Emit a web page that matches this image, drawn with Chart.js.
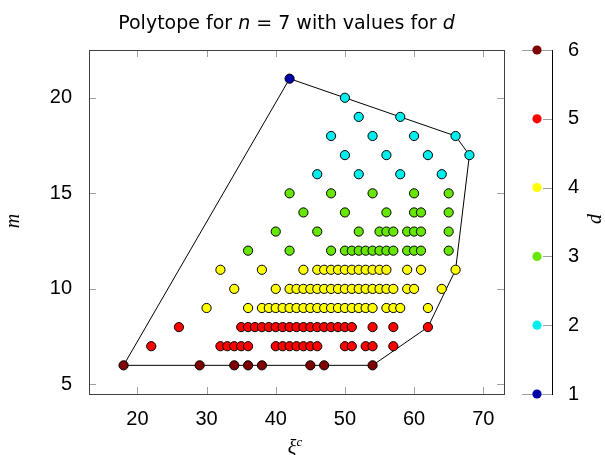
<!DOCTYPE html>
<html>
<head>
<meta charset="utf-8">
<script src="https://cdn.jsdelivr.net/npm/chart.js@4.4.0/dist/chart.umd.min.js"></script>
<style>
  body { margin: 0; background: #fff; }
  #wrap { position: relative; width: 605px; height: 455px; overflow: hidden; }
  canvas { position: absolute; top: 0; }
  .lbl { position: absolute; color: #000; white-space: nowrap; text-align: center; }
  .math { font-family: "Liberation Serif", serif; font-style: italic; }
</style>
</head>
<body>
<div id="wrap">
  <canvas id="main" width="605" height="455" style="left:0"></canvas>
  <canvas id="cbar" width="100" height="455" style="left:505px"></canvas>
  <div class="lbl" id="title" style="left:0;width:573px;top:11px;line-height:24px;font:19px 'DejaVu Sans';">Polytope for <i>n</i> = 7 with values for <i>d</i></div>
  <div class="lbl math" style="left:-8px;top:206px;width:40px;line-height:30px;font-size:20px;transform:rotate(-90deg);">m</div>
  <div class="lbl math" style="left:245px;top:430px;width:100px;line-height:24px;font-size:20px;">ξ<sup style="font-size:13px">c</sup></div>
  <div class="lbl math" style="left:574px;top:204px;width:40px;line-height:30px;font-size:20px;transform:rotate(-90deg);">d</div>
</div>
<script>
// rows of the polytope: m value, colour value d, and the xi^c values in that row
const mRows = [6, 7, 8, 9, 10, 11, 12, 13, 14, 15, 16, 17, 18, 19, 20, 21];
const dRows = [6, 5, 5, 4, 4, 4, 3, 3, 3, 3, 2, 2, 2, 2, 2, 1];
const xiRows = [
  [18, 29, 34, 36, 38, 45, 47, 54],
  [22, 32, 33, 34, 35, 36, 40, 41, 42, 43, 44, 45, 46, 50, 51, 53, 54, 57],
  [26, 35, 36, 37, 38, 39, 40, 41, 42, 43, 44, 45, 46, 47, 48, 49, 50, 51, 54, 57, 62],
  [30, 36, 38, 39, 40, 41, 42, 43, 44, 45, 46, 47, 48, 49, 50, 51, 52, 53, 54, 56, 57, 58, 62],
  [34, 40, 42, 43, 44, 45, 46, 47, 48, 49, 50, 51, 52, 53, 54, 55, 56, 57, 59, 60, 64],
  [32, 38, 44, 46, 47, 48, 49, 50, 51, 52, 53, 54, 55, 56, 59, 61, 66],
  [36, 42, 48, 50, 51, 52, 53, 54, 55, 56, 57, 59, 60, 61, 65],
  [40, 46, 52, 55, 56, 57, 59, 60, 61, 65],
  [44, 50, 56, 60, 61, 65],
  [42, 48, 54, 60, 65],
  [46, 52, 58, 64],
  [50, 56, 62, 68],
  [48, 54, 60, 66],
  [52, 58],
  [50],
  [42]
];

// outline of the polytope
const hullXi = [42, 50, 58, 66, 68, 66, 62, 54, 18, 42];
const hullM = [21, 20, 19, 18, 17, 11, 8, 6, 6, 21];

// colour bar
const dLevels = [1, 2, 3, 4, 5, 6];
const dColors = ["#0000aa", "#00eeee", "#66e600", "#ffff00", "#ff0000", "#7f0000"];

const xTicks = [20, 30, 40, 50, 60, 70];
const yTicks = [5, 10, 15, 20];

const tickFont = { family: "'Liberation Sans', sans-serif", size: 20 };

// one scatter dataset per value of d
const pointSets = dLevels.map((d, i) => {
  const pts = [];
  mRows.forEach((m, r) => {
    if (dRows[r] === d) xiRows[r].forEach((xi) => pts.push({ x: xi, y: m }));
  });
  return {
    data: pts,
    pointBackgroundColor: dColors[i],
    pointBorderColor: "#000",
    pointBorderWidth: 1,
    pointRadius: 4.6,
    order: 0,
    clip: false,
  };
});

const hullSet = {
  data: hullXi.map((x, i) => ({ x: x, y: hullM[i] })),
  showLine: true,
  borderColor: "#000",
  borderWidth: 1,
  pointRadius: 0,
  order: 1,
};

const px = (v) => Math.round(v) + 0.5;

// frame of the axis box, with short ticks pointing inwards
const mainFrame = {
  id: "mainFrame",
  beforeDatasetsDraw(chart) {
    const { ctx, chartArea: a, scales } = chart;
    ctx.save();
    ctx.strokeStyle = "#a0a0a0";
    ctx.lineWidth = 1;
    ctx.beginPath();
    xTicks.forEach((v) => {
      const x = px(scales.x.getPixelForValue(v));
      ctx.moveTo(x, a.bottom); ctx.lineTo(x, a.bottom - 7);
      ctx.moveTo(x, a.top); ctx.lineTo(x, a.top + 7);
    });
    yTicks.forEach((v) => {
      const y = px(scales.y.getPixelForValue(v));
      ctx.moveTo(a.left, y); ctx.lineTo(a.left + 7, y);
      ctx.moveTo(a.right, y); ctx.lineTo(a.right - 7, y);
    });
    ctx.stroke();
    ctx.strokeStyle = "#404040";
    ctx.strokeRect(px(a.left), px(a.top), Math.round(a.right - a.left), Math.round(a.bottom - a.top));
    ctx.restore();
  },
};

new Chart(document.getElementById("main"), {
  type: "scatter",
  data: { datasets: [...pointSets, hullSet] },
  options: {
    responsive: false,
    animation: false,
    layout: { padding: { left: 0, top: 50, right: 101, bottom: 0 } },
    plugins: { legend: { display: false }, tooltip: { enabled: false } },
    scales: {
      x: {
        type: "linear",
        min: 13,
        max: 73,
        afterBuildTicks: (s) => { s.ticks = xTicks.map((v) => ({ value: v })); },
        afterFit: (s) => { s.height = 61; },
        ticks: { font: tickFont, color: "#000", padding: 5 },
        grid: { display: false },
        border: { display: false },
      },
      y: {
        type: "linear",
        min: 4.5,
        max: 22.5,
        afterBuildTicks: (s) => { s.ticks = yTicks.map((v) => ({ value: v })); },
        afterFit: (s) => { s.width = 89; },
        ticks: { font: tickFont, color: "#000", padding: 9 },
        grid: { display: false },
        border: { display: false },
      },
    },
  },
  plugins: [mainFrame],
});

// colour bar drawn as its own little chart
const barFrame = {
  id: "barFrame",
  beforeDatasetsDraw(chart) {
    const { ctx, chartArea: a, scales } = chart;
    ctx.save();
    ctx.strokeStyle = "#a0a0a0";
    ctx.lineWidth = 1;
    ctx.beginPath();
    dLevels.forEach((v) => {
      const y = px(scales.y.getPixelForValue(v));
      const len = (v === dLevels[0] || v === dLevels[dLevels.length - 1]) ? a.right - a.left : 9;
      ctx.moveTo(a.right, y); ctx.lineTo(a.right - len, y);
    });
    ctx.stroke();
    ctx.strokeStyle = "#000";
    ctx.beginPath();
    ctx.moveTo(px(a.right), a.top); ctx.lineTo(px(a.right), a.bottom + 1);
    ctx.stroke();
    ctx.restore();
  },
};

new Chart(document.getElementById("cbar"), {
  type: "scatter",
  data: {
    datasets: [{
      data: dLevels.map((d) => ({ x: 0, y: d })),
      pointBackgroundColor: dColors,
      pointBorderWidth: 0,
      pointRadius: 4.6,
      clip: false,
    }],
  },
  options: {
    responsive: false,
    animation: false,
    layout: { padding: { left: 17, top: 50, right: 0, bottom: 61 } },
    plugins: { legend: { display: false }, tooltip: { enabled: false } },
    scales: {
      x: { type: "linear", min: -1, max: 1, display: false },
      y: {
        type: "linear",
        position: "right",
        min: 1,
        max: 6,
        afterBuildTicks: (s) => { s.ticks = dLevels.map((v) => ({ value: v })); },
        afterFit: (s) => { s.width = 53; },
        ticks: { font: tickFont, color: "#000", padding: 8 },
        grid: { display: false },
        border: { display: false },
      },
    },
  },
  plugins: [barFrame],
});
</script>
</body>
</html>
